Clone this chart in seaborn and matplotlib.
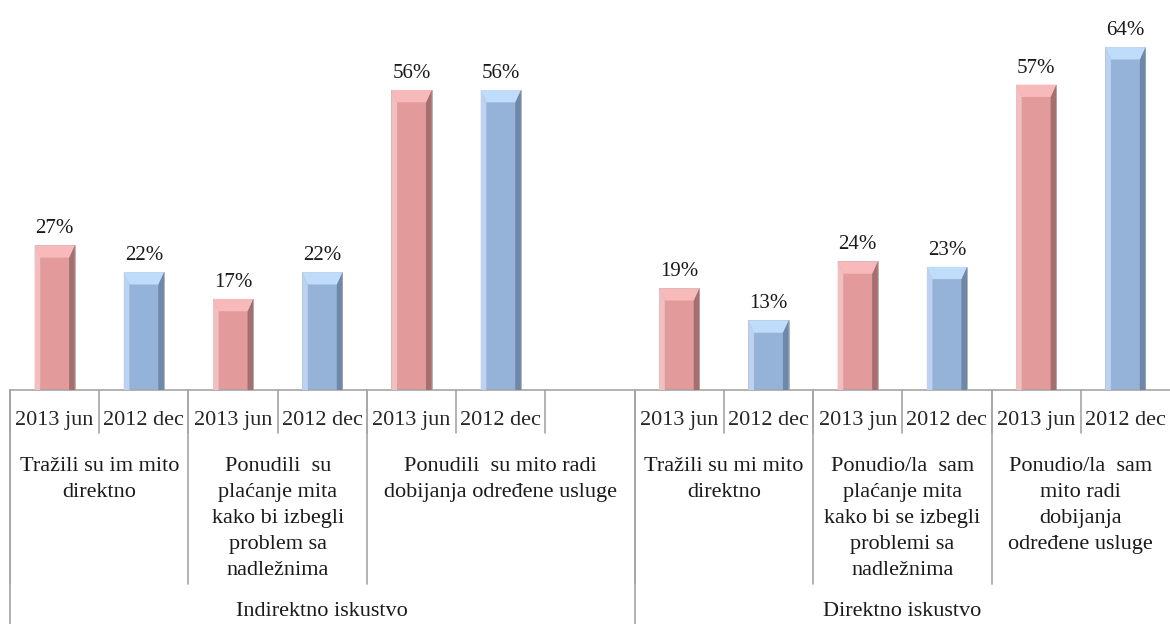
import numpy as np
import pandas as pd
import matplotlib
matplotlib.use("Agg")
import matplotlib.pyplot as plt
import seaborn as sns
from matplotlib.patches import Polygon

# data
periods = ["2013 jun", "2012 dec", "2013 jun", "2012 dec", "2013 jun", "2012 dec", "",
           "2013 jun", "2012 dec", "2013 jun", "2012 dec", "2013 jun", "2012 dec"]
values = [27, 22, 17, 22, 56, 56, np.nan, 19, 13, 24, 23, 57, 64]
group_names = ["Tražili su im mito\ndirektno",
               "Ponudili  su\nplaćanje mita\nkako bi izbegli\nproblem sa\nnadležnima",
               "Ponudili  su mito radi\ndobijanja određene usluge",
               "Tražili su mi mito\ndirektno",
               "Ponudio/la  sam\nplaćanje mita\nkako bi se izbegli\nproblemi sa\nnadležnima",
               "Ponudio/la  sam\nmito radi\ndobijanja\nodređene usluge"]
group_sizes = [2, 2, 3, 2, 2, 2]
super_names = ["Indirektno iskustvo", "Direktno iskustvo"]
super_sizes = [7, 6]

sns.set_style("white")
plt.rcParams['font.family'] = ['Liberation Serif', 'DejaVu Serif']

slots = [str(i) for i in range(len(values))]
df = pd.DataFrame({"slot": slots, "period": periods, "value": values})
df["kind"] = df["period"].replace("", "2013 jun")

pal = {"2013 jun": "#E39A9B", "2012 dec": "#95B3D9"}
light = {"2013 jun": "#F0C0C0", "2012 dec": "#BCD2EE"}
top_c = {"2013 jun": "#F7B9B9", "2012 dec": "#BFDDFA"}
dark = {"2013 jun": "#A56F70", "2012 dec": "#6F87A8"}

fig = plt.figure(figsize=(11.7, 6.24), dpi=100)
ax = fig.add_axes([10 / 1170, 234 / 624, 1 - 10 / 1170, 390 / 624])

sns.barplot(data=df, x="slot", y="value", hue="kind", palette=pal, order=slots,
            width=0.45, dodge=False, legend=False, ax=ax, saturation=1)

ax.set_ylim(0, 72.8)
ax.set_xlim(-0.5, len(values) - 0.5)
ax.set_yticks([])
ax.set_ylabel("")
ax.set_xlabel("")
for s in ["top", "right", "left"]:
    ax.spines[s].set_visible(False)
ax.spines["bottom"].set_color("#A6A6A6")
ax.spines["bottom"].set_linewidth(1.2)

# bevel look for each bar
for p in ax.patches:
    h = p.get_height()
    if not np.isfinite(h) or h <= 0:
        continue
    x0 = p.get_x()
    w = p.get_width()
    x1 = x0 + w
    kind = "2013 jun" if p.get_facecolor()[0] > 0.7 else "2012 dec"
    bx = w * 0.14
    by = 2.3
    ax.add_patch(Polygon([(x1, 0), (x1, h), (x1 - bx, h - by), (x1 - bx, 0)],
                         closed=True, facecolor=dark[kind], edgecolor="none", zorder=3))
    ax.add_patch(Polygon([(x0, 0), (x0, h), (x0 + bx, h - by), (x0 + bx, 0)],
                         closed=True, facecolor=light[kind], edgecolor="none", zorder=3))
    ax.add_patch(Polygon([(x0, h), (x1, h), (x1 - bx, h - by), (x0 + bx, h - by)],
                         closed=True, facecolor=top_c[kind], edgecolor="none", zorder=3))
    p.set_edgecolor("#B0B0B0")
    p.set_linewidth(0.6)
    ax.text(x0 + w / 2, h + 1.3, f"{int(h)}%", ha="center", va="bottom",
            fontsize=15, color="#1a1a1a")

# category labels
ax.set_xticks(range(len(values)))
ax.set_xticklabels(periods, fontsize=16)
ax.tick_params(axis="x", length=0, pad=15)

tr = ax.get_xaxis_transform()
line_kw = dict(color="#A6A6A6", lw=1.2, transform=tr, clip_on=False)
short_y = -43 / 390
group_y = -194 / 390
full_y = -234 / 390

# short dividers between slots
for i in range(len(values)):
    ax.plot([i - 0.5, i - 0.5], [0, short_y], **line_kw)

start = 0
for name, n in zip(group_names, group_sizes):
    ax.plot([start - 0.5, start - 0.5], [0, group_y], **line_kw)
    ax.text(start - 0.5 + n / 2, -67 / 390, name, transform=tr, ha="center", va="top",
            fontsize=16, linespacing=1.5, color="#1a1a1a")
    start += n

start = 0
for name, n in zip(super_names, super_sizes):
    ax.plot([start - 0.5, start - 0.5], [0, full_y], **line_kw)
    ax.text(start - 0.5 + n / 2, -221 / 390, name, transform=tr, ha="center", va="center",
            fontsize=16, color="#1a1a1a")
    start += n

fig.savefig("out.png", dpi=100)
